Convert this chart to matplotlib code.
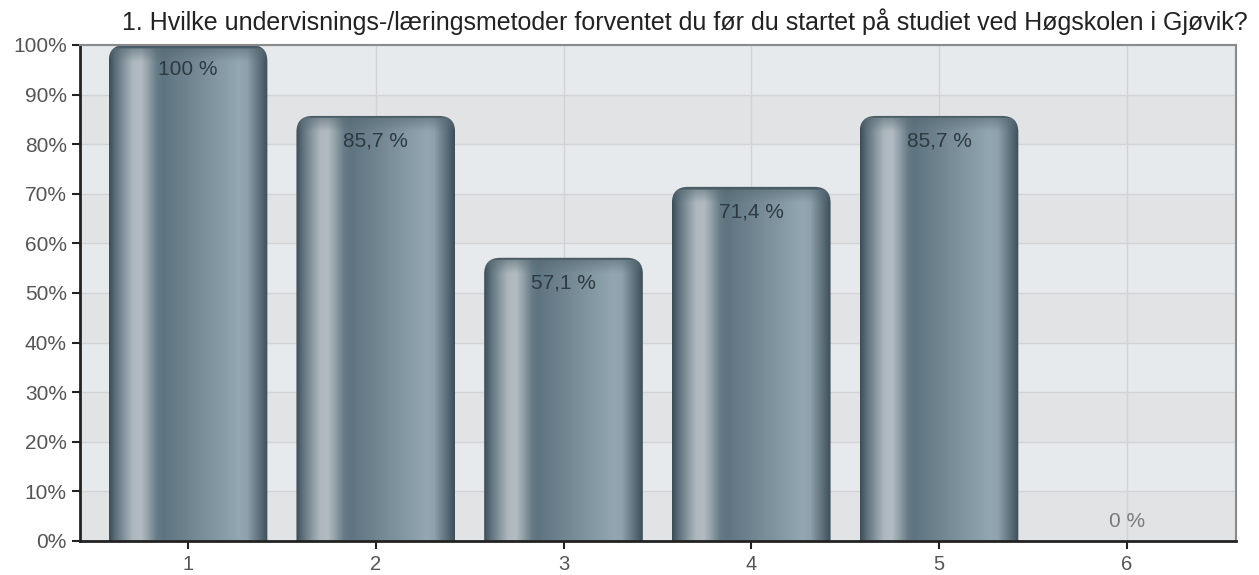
import numpy as np
import matplotlib.pyplot as plt
from matplotlib.patches import FancyBboxPatch
from matplotlib.colors import to_rgb

categories = ["1", "2", "3", "4", "5", "6"]
values = [100, 85.7, 57.1, 71.4, 85.7, 0]
labels = ["100 %", "85,7 %", "57,1 %", "71,4 %", "85,7 %", "0 %"]
title = "1. Hvilke undervisnings-/læringsmetoder forventet du før du startet på studiet ved Høgskolen i Gjøvik?"

plt.rcParams['font.family'] = ['Liberation Sans', 'DejaVu Sans']

# horizontal shading profile of the cylinder bars
stops = [(0.00, '#3b4d58'), (0.04, '#5d707b'), (0.10, '#8a99a2'), (0.15, '#adb7bd'),
         (0.20, '#b2bbc1'), (0.24, '#97a4ab'), (0.30, '#687c87'), (0.34, '#5e7480'),
         (0.60, '#7b8f9a'), (0.82, '#93a7b3'), (0.87, '#8ea1ac'), (0.93, '#687c87'),
         (1.00, '#3d4f5a')]
sx = np.array([s[0] for s in stops])
sc = np.array([to_rgb(s[1]) for s in stops])
nx = 200
xs = np.linspace(0, 1, nx)
profile = np.stack([np.interp(xs, sx, sc[:, k]) for k in range(3)], axis=1)

fig = plt.figure(figsize=(12.59, 5.75), dpi=100)
fig.patch.set_facecolor('white')
ax = fig.add_axes([80 / 1259, 1 - 541 / 575, (1236 - 80) / 1259, (541 - 45) / 575])

x = np.arange(1, len(categories) + 1)
xmin, xmax = 0.4246, 6.582
ymin, ymax = 0, 100

# alternating background bands
for i in range(10):
    ax.axhspan(i * 10, i * 10 + 10, color='#e7eaed' if i % 2 else '#e2e3e5', zorder=0, lw=0)
ax.set_axisbelow(True)
ax.grid(True, color='#d2d3d5', lw=1, zorder=0.5)

# px per data unit, for rounding aspect
px_x = (1236 - 80) / (xmax - xmin)
px_y = (541 - 45) / (ymax - ymin)
aspect = px_x / px_y
w = 0.845
r = 16 / px_x

for xi, v, lab in zip(x, values, labels):
    if v > 0:
        ny = 300
        hpx = v * px_y
        ys = np.linspace(0, 1, ny)  # 0 = top
        dist = ys * hpx
        cap = np.clip(1 - dist / 16, 0, 1)[:, None, None]
        img = np.repeat(profile[None, :, :], ny, axis=0)
        capcol = np.array(to_rgb('#566973'))
        img = img * (1 - 0.65 * cap) + capcol * 0.65 * cap
        rim = (dist < 2.5)[:, None, None]
        img = np.where(rim, np.array(to_rgb('#4a5c66')), img)
        patch = FancyBboxPatch((xi - w / 2, -10), w, v + 10,
                               boxstyle=f"round,pad=0,rounding_size={r}",
                               mutation_aspect=aspect, fc='none', ec='none',
                               transform=ax.transData)
        ax.add_patch(patch)
        im = ax.imshow(img, extent=[xi - w / 2, xi + w / 2, 0, v], origin='upper',
                       aspect='auto', zorder=2, interpolation='bilinear')
        im.set_clip_path(patch)
        ax.text(xi, v - 5, lab, ha='center', va='center', fontsize=15,
                color='#2e3a42', zorder=3)
    else:
        ax.text(xi, 4, lab, ha='center', va='center', fontsize=15,
                color='#7a7a7a', zorder=3)

ax.set_xlim(xmin, xmax)
ax.set_ylim(ymin, ymax)
ax.set_xticks(x)
ax.set_xticklabels(categories)
ax.set_yticks(np.arange(0, 101, 10))
ax.set_yticklabels([f"{t}%" for t in range(0, 101, 10)])
ax.tick_params(axis='both', labelsize=15, labelcolor='#555555', color='#222222',
               length=6, width=1.5)
ax.tick_params(axis='x', pad=4, labelsize=14.5)
for side in ['left', 'bottom']:
    ax.spines[side].set_color('#222222')
    ax.spines[side].set_linewidth(2)
for side in ['right', 'top']:
    ax.spines[side].set_color('#8a8a8a')
    ax.spines[side].set_linewidth(1.5)

fig.text(685 / 1259, 1 - 22 / 575, title, ha='center', va='center', fontsize=18,
         color='#222222')

fig.savefig('out.png', dpi=100)
